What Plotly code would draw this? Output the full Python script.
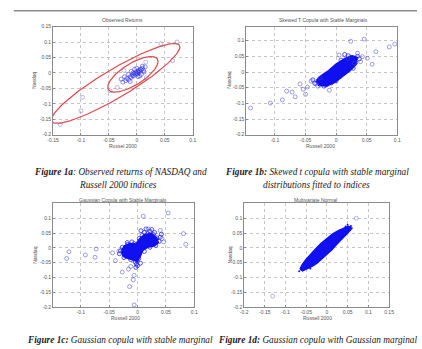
import numpy as np
import plotly.graph_objects as go

W, H = 422, 349

# ---------------- Panel 1a: observed returns ----------------
a_core_x = [-0.020, -0.018, -0.015, -0.012, -0.010, -0.008, -0.006, -0.005, -0.003, -0.002,
            0.000, 0.001, 0.002, 0.003, 0.004, 0.005, 0.006, 0.008, 0.010, 0.012,
            0.015, -0.025, -0.015, -0.010, 0.005, 0.008, -0.004, 0.000, 0.010, -0.022,
            -0.028, 0.013, -0.007, 0.002, -0.012]
a_core_y = [-0.025, -0.018, -0.022, -0.012, -0.015, -0.008, -0.010, -0.002, -0.005, 0.002,
            0.000, -0.003, 0.004, 0.008, 0.001, 0.006, 0.012, 0.010, 0.015, 0.008,
            0.020, -0.030, -0.005, 0.005, -0.010, -0.005, 0.012, 0.015, 0.022, -0.012,
            -0.020, 0.003, 0.000, -0.012, -0.028]
a_out_x = [0.043, 0.072, 0.064, 0.016, -0.023, -0.035, -0.048, -0.097, -0.100, -0.137, 0.017]
a_out_y = [0.095, 0.100, 0.040, 0.035, 0.008, -0.047, -0.058, -0.079, -0.123, -0.167, -0.016]
# confidence ellipses: centre, semi-axis vector a, conjugate semi-axis vector b
ell_outer = (-0.038, -0.034, 0.115, 0.118, 0.0, 0.053)
ell_inner = (-0.007, -0.0045, 0.045, 0.0415, 0.0, 0.040)
a_xticks = [-0.15, -0.1, -0.05, 0, 0.05, 0.1]
a_xtext = ["-0.15", "-0.1", "-0.05", "0", "0.05", "0.1"]
a_yticks = [-0.2, -0.15, -0.1, -0.05, 0, 0.05, 0.1, 0.15]
a_ytext = ["-0.2", "-0.15", "-0.1", "-0.05", "0", "0.05", "0.1", "0.15"]

# ---------------- Panel 1b: skewed t copula, stable marginals ----------------
b_core_x = [-0.032, -0.024, -0.012, 0.000, 0.0136, 0.027, 0.034, 0.032, 0.023, 0.009,
            -0.003, -0.016, -0.028, -0.032]
b_core_y = [-0.028, -0.012, 0.004, 0.025, 0.041, 0.051, 0.046, 0.024, 0.006, -0.015,
            -0.033, -0.044, -0.042, -0.028]
b_edge_x = [-0.030, -0.027, -0.022, -0.018, -0.015, -0.010, -0.008, -0.004, 0.000, 0.003,
            0.006, 0.010, 0.012, 0.016, 0.020, 0.024, 0.026, 0.030, 0.032, 0.035,
            -0.035, -0.038, 0.008, 0.020, 0.028, -0.020, 0.038, 0.014]
b_edge_y = [-0.030, -0.022, -0.035, -0.012, -0.040, -0.003, -0.035, 0.008, -0.028, 0.018,
            -0.015, 0.030, -0.005, 0.040, 0.008, 0.047, 0.020, 0.040, 0.030, 0.050,
            -0.036, -0.025, 0.038, 0.052, 0.012, -0.045, 0.042, 0.056]
b_out_x = [-0.140, -0.1075, -0.088, -0.081, -0.072, -0.067, -0.059, -0.054, -0.050, -0.047,
           -0.041, -0.033, -0.030, -0.026, -0.011, 0.024, 0.046, 0.065, 0.087, 0.096,
           0.059, 0.005, 0.035, 0.019, 0.040, 0.051, 0.030, 0.043]
b_out_y = [-0.115, -0.099, -0.089, -0.061, -0.064, -0.079, -0.038, -0.055, -0.071, -0.048,
           -0.029, -0.038, -0.045, -0.019, -0.058, 0.098, 0.105, 0.065, 0.080, 0.089,
           0.025, 0.054, 0.060, 0.044, 0.033, 0.044, 0.028, 0.049]
b_xticks = [-0.1, -0.05, 0, 0.05, 0.1]
b_xtext = ["-0.1", "-0.05", "0", "0.05", "0.1"]
b_yticks = [-0.2, -0.15, -0.1, -0.05, 0, 0.05, 0.1]
b_ytext = ["-0.2", "-0.15", "-0.1", "-0.05", "0", "0.05", "0.1"]

# ---------------- Panel 1c: Gaussian copula, stable marginals ----------------
c_core_x = [-0.028, -0.023, -0.013, -0.003, 0.004, 0.012, 0.024, 0.034, 0.036, 0.030,
            0.019, 0.009, 0.004, -0.001, -0.009, -0.019, -0.026, -0.028]
c_core_y = [-0.010, 0.006, 0.014, 0.012, 0.030, 0.044, 0.048, 0.032, 0.018, 0.008,
            0.004, -0.008, -0.030, -0.045, -0.040, -0.034, -0.024, -0.010]
c_edge_x = [-0.030, -0.027, -0.022, -0.017, -0.012, -0.006, -0.001, 0.003, 0.005, 0.008,
            0.012, 0.018, 0.022, 0.028, 0.034, 0.038, 0.032, 0.022, 0.012, -0.002,
            0.000, -0.003, 0.025, 0.015, -0.024, -0.032, 0.040, 0.042, 0.006, -0.010,
            0.020, 0.030, -0.004, 0.002, 0.010, -0.018]
c_edge_y = [-0.010, 0.002, -0.027, 0.012, -0.040, 0.014, -0.042, 0.032, -0.052, 0.042,
            0.052, 0.048, 0.056, 0.045, 0.034, 0.022, 0.008, 0.002, -0.012, -0.055,
            -0.060, -0.066, 0.062, 0.064, -0.033, -0.020, 0.036, 0.046, 0.058, 0.020,
            0.035, 0.052, -0.048, -0.036, 0.000, 0.018]
c_out_x = [-0.125, -0.121, -0.092, -0.075, -0.073, -0.044, -0.039, -0.033, -0.027, -0.016,
           -0.012, -0.0075, -0.006, -0.014, -0.006, 0.010, 0.054, 0.081, 0.085, 0.040,
           0.043, 0.046, 0.019]
c_out_y = [-0.036, -0.013, -0.024, -0.032, -0.004, -0.017, -0.043, -0.011, -0.082, -0.072,
           -0.063, -0.108, -0.093, -0.131, -0.193, 0.107, 0.118, 0.048, 0.012, 0.059,
           0.031, 0.020, 0.064]
c_xticks = [-0.1, -0.05, 0, 0.05, 0.1]
c_xtext = ["-0.1", "-0.05", "0", "0.05", "0.1"]
c_yticks = [-0.2, -0.15, -0.1, -0.05, 0, 0.05, 0.1]
c_ytext = ["-0.2", "-0.15", "-0.1", "-0.05", "0", "0.05", "0.1"]

# ---------------- Panel 1d: multivariate normal ----------------
d_core_x = [-0.065, -0.060, -0.051, -0.040, -0.0275, -0.014, 0.000, 0.014, 0.0275, 0.040,
            0.051, 0.057, 0.058, 0.050, 0.035, 0.022, 0.012, 0.000, -0.012, -0.024,
            -0.035, -0.048, -0.059, -0.065]
d_core_y = [-0.072, -0.058, -0.040, -0.022, -0.004, 0.015, 0.032, 0.047, 0.058, 0.067,
            0.073, 0.070, 0.062, 0.050, 0.030, 0.010, -0.006, -0.022, -0.038, -0.052,
            -0.062, -0.071, -0.078, -0.072]
d_edge_x = [-0.067, -0.063, 0.058, 0.060, -0.052, 0.050, 0.045, -0.040]
d_edge_y = [-0.079, -0.068, 0.074, 0.066, -0.050, 0.078, 0.072, -0.070]
d_out_x = [0.071, -0.131]
d_out_y = [0.100, -0.163]
d_xticks = [-0.2, -0.15, -0.1, -0.05, 0, 0.05, 0.1, 0.15]
d_xtext = ["-0.2", "-0.15", "-0.1", "-0.05", "0", "0.05", "0.1", "0.15"]
d_yticks = [-0.2, -0.15, -0.1, -0.05, 0, 0.05, 0.1]
d_ytext = ["-0.2", "-0.15", "-0.1", "-0.05", "0", "0.05", "0.1"]

# ---------------- helpers ----------------
def px_x(p):
    return p / W

def px_y(p):
    return 1 - p / H

BLUE = "#1010f0"
OUT = "rgba(70,70,200,0.75)"
RED = "#e0474c"

fig = go.Figure()

def circles(x, y, xa, ya, color, size=4, lw=0.7):
    fig.add_trace(go.Scatter(x=x, y=y, xaxis=xa, yaxis=ya, mode="markers",
                             marker=dict(symbol="circle-open", size=size, color=color,
                                         line=dict(width=lw, color=color)),
                             showlegend=False, hoverinfo="skip"))

def blob(x, y, xa, ya, lw=2.0):
    fig.add_trace(go.Scatter(x=x, y=y, xaxis=xa, yaxis=ya, mode="lines", fill="toself",
                             fillcolor=BLUE, line=dict(color=BLUE, width=lw),
                             showlegend=False, hoverinfo="skip"))

# 1a
t = np.linspace(0, 2 * np.pi, 200)
for (cx, cy, ax_, ay_, bx_, by_) in (ell_outer, ell_inner):
    fig.add_trace(go.Scatter(x=cx + ax_ * np.cos(t) + bx_ * np.sin(t),
                             y=cy + ay_ * np.cos(t) + by_ * np.sin(t),
                             xaxis="x", yaxis="y", mode="lines",
                             line=dict(color=RED, width=1.2),
                             showlegend=False, hoverinfo="skip"))
circles(a_core_x, a_core_y, "x", "y", "rgba(40,40,230,0.75)")
circles(a_out_x, a_out_y, "x", "y", "rgba(110,110,190,0.7)")

# 1b
blob(b_core_x, b_core_y, "x2", "y2")
circles(b_edge_x, b_edge_y, "x2", "y2", BLUE)
circles(b_out_x, b_out_y, "x2", "y2", OUT)

# 1c
blob(c_core_x, c_core_y, "x3", "y3")
circles(c_edge_x, c_edge_y, "x3", "y3", BLUE)
circles(c_out_x, c_out_y, "x3", "y3", OUT)

# 1d
blob(d_core_x, d_core_y, "x4", "y4", lw=1.5)
fig.add_trace(go.Scatter(x=d_edge_x, y=d_edge_y, xaxis="x4", yaxis="y4", mode="markers",
                         marker=dict(symbol="circle", size=2, color=BLUE),
                         showlegend=False, hoverinfo="skip"))
circles(d_out_x, d_out_y, "x4", "y4", "rgba(110,110,190,0.7)")

def axis(rng, tv, tt, dom, anchor):
    return dict(range=rng, domain=dom, anchor=anchor, tickmode="array", tickvals=tv, ticktext=tt,
                showgrid=True, gridcolor="#c4c4c4", griddash="dot", gridwidth=0.7,
                showline=True, linecolor="#8a8a8a", linewidth=0.8, mirror=True,
                ticks="inside", ticklen=2, tickcolor="#8a8a8a", zeroline=False,
                tickfont=dict(size=5, color="#555555", family="Liberation Sans"))

row1 = [px_y(134), px_y(24)]
row2 = [px_y(309.3), px_y(204)]

fig.update_layout(
    width=W, height=H, margin=dict(l=0, r=0, t=0, b=0),
    paper_bgcolor="white", plot_bgcolor="white",
    xaxis=axis([-0.15, 0.1], a_xticks, a_xtext, [px_x(48.3), px_x(191.7)], "y"),
    yaxis=axis([-0.2, 0.15], a_yticks, a_ytext, row1, "x"),
    xaxis2=axis([-0.147, 0.1], b_xticks, b_xtext, [px_x(246.7), px_x(401.7)], "y2"),
    yaxis2=axis([-0.2, 0.145], b_yticks, b_ytext, row1, "x2"),
    xaxis3=axis([-0.149, 0.1], c_xticks, c_xtext, [px_x(48.3), px_x(193.3)], "y3"),
    yaxis3=axis([-0.2, 0.15], c_yticks, c_ytext, row2, "x3"),
    xaxis4=axis([-0.2, 0.15], d_xticks, d_xtext, [px_x(244.5), px_x(393.3)], "y4"),
    yaxis4=axis([-0.2, 0.15], d_yticks, d_ytext, row2, "x4"),
)

small = dict(size=5, color="#555555", family="Liberation Sans")
labels = [
    ("Observed Returns", 120, 17, 0),
    ("Russel 2000", 120, 145.5, 0),
    ("Nasdaq", 28, 79, -90),
    ("Skewed T Copula with Stable Marginals", 326, 17, 0),
    ("Russell 2000", 323, 145.5, 0),
    ("Nasdaq", 229, 79, -90),
    ("Gaussian Copula with Stable Marginals", 120, 200, 0),
    ("Russell 2000", 123, 320.5, 0),
    ("Nasdaq", 29, 257, -90),
    ("Multivariate Normal", 318, 200, 0),
    ("Russell 2000", 320, 320.5, 0),
    ("Nasdaq", 230, 257, -90),
]
for txt, x, y, ang in labels:
    fig.add_annotation(text=txt, x=px_x(x), y=px_y(y), xref="paper", yref="paper",
                       showarrow=False, textangle=ang, font=small,
                       xanchor="center", yanchor="middle")

cap = dict(size=9.3, color="#1a1a1a", family="Liberation Serif")
captions = [
    ("<b><i>Figure 1a</i></b><i>: Observed returns of NASDAQ and</i>", 118, 172),
    ("<i>Russell 2000 indices</i>", 115, 185),
    ("<b><i>Figure 1b:</i></b><i> Skewed t copula with stable marginal</i>", 319, 172),
    ("<i>distributions fitted to indices</i>", 319, 185),
    ("<b><i>Figure 1c:</i></b><i> Gaussian copula with stable marginal</i>", 117, 343),
    ("<b><i>Figure 1d:</i></b><i> Gaussian copula with Gaussian marginal</i>", 320, 343),
]
for txt, x, y in captions:
    fig.add_annotation(text=txt, x=px_x(x), y=px_y(y), xref="paper", yref="paper",
                       showarrow=False, font=cap, xanchor="center", yanchor="middle")

# thin rule at the top of the page
fig.add_shape(type="line", xref="paper", yref="paper", x0=px_x(8), x1=1.0,
              y0=px_y(8), y1=px_y(8), line=dict(color="#8c8c8c", width=1.5))

fig.write_html("out.html", config={"displayModeBar": False},
               post_script="document.body.style.margin='0';document.body.style.overflow='hidden';")
